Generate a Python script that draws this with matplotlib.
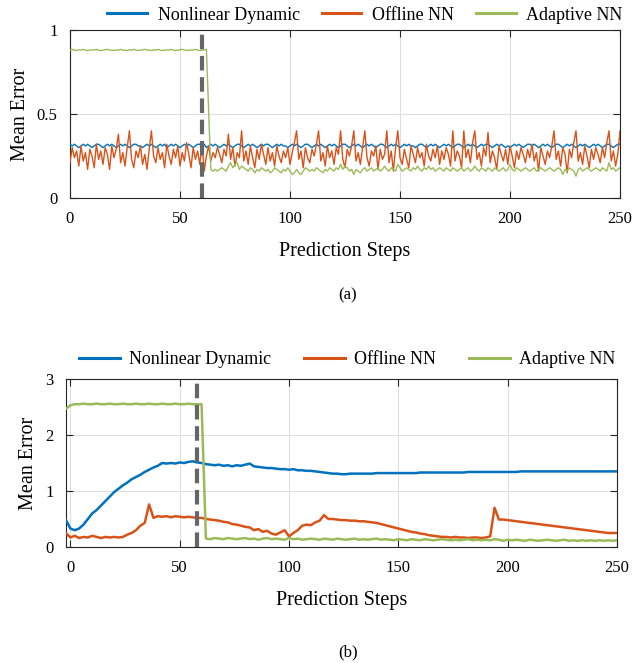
import matplotlib

matplotlib.use("Agg")
import matplotlib.pyplot as plt
import numpy as np


plt.rcParams["font.family"] = ["Liberation Serif", "DejaVu Serif"]

SERIES_NAMES = ["Nonlinear Dynamic", "Offline NN", "Adaptive NN"]
COLORS = ["#0072BD", "#D95319", "#9BBB59"]

# (a) one value per prediction step, steps 0..250
steps_a = list(range(0, 251))

nonlinear_a = [
    0.32, 0.31, 0.32, 0.31, 0.30, 0.31, 0.32, 0.31, 0.32, 0.31,
    0.30, 0.31, 0.32, 0.32, 0.31, 0.30, 0.31, 0.32, 0.31, 0.32,
    0.31, 0.30, 0.31, 0.32, 0.31, 0.32, 0.31, 0.30, 0.31, 0.32,
    0.32, 0.31, 0.31, 0.30, 0.31, 0.32, 0.31, 0.32, 0.31, 0.30,
    0.31, 0.32, 0.31, 0.32, 0.30, 0.31, 0.32, 0.31, 0.32, 0.31,
    0.30, 0.31, 0.32, 0.31, 0.32, 0.31, 0.30, 0.31, 0.32, 0.32,
    0.31, 0.32, 0.30, 0.31, 0.32, 0.31, 0.32, 0.31, 0.30, 0.31,
    0.32, 0.31, 0.32, 0.31, 0.30, 0.31, 0.32, 0.32, 0.31, 0.30,
    0.31, 0.32, 0.31, 0.32, 0.31, 0.30, 0.31, 0.32, 0.31, 0.32,
    0.32, 0.31, 0.30, 0.31, 0.32, 0.31, 0.32, 0.31, 0.31, 0.30,
    0.31, 0.32, 0.31, 0.32, 0.31, 0.30, 0.31, 0.32, 0.32, 0.31,
    0.30, 0.31, 0.32, 0.31, 0.32, 0.31, 0.30, 0.31, 0.32, 0.31,
    0.32, 0.31, 0.30, 0.31, 0.32, 0.32, 0.31, 0.30, 0.31, 0.32,
    0.31, 0.32, 0.31, 0.30, 0.31, 0.32, 0.31, 0.32, 0.31, 0.30,
    0.31, 0.32, 0.32, 0.31, 0.30, 0.31, 0.32, 0.31, 0.32, 0.31,
    0.30, 0.31, 0.32, 0.31, 0.32, 0.31, 0.31, 0.30, 0.31, 0.32,
    0.32, 0.31, 0.30, 0.31, 0.32, 0.31, 0.32, 0.31, 0.30, 0.31,
    0.32, 0.31, 0.32, 0.31, 0.30, 0.31, 0.32, 0.32, 0.31, 0.30,
    0.31, 0.32, 0.31, 0.32, 0.31, 0.30, 0.31, 0.32, 0.31, 0.32,
    0.32, 0.31, 0.30, 0.31, 0.32, 0.31, 0.32, 0.31, 0.30, 0.31,
    0.30, 0.31, 0.32, 0.31, 0.32, 0.31, 0.30, 0.31, 0.32, 0.32,
    0.31, 0.32, 0.31, 0.30, 0.31, 0.32, 0.31, 0.32, 0.31, 0.30,
    0.31, 0.32, 0.32, 0.31, 0.30, 0.31, 0.32, 0.31, 0.32, 0.31,
    0.30, 0.31, 0.32, 0.31, 0.32, 0.31, 0.30, 0.31, 0.32, 0.31,
    0.32, 0.31, 0.30, 0.31, 0.32, 0.32, 0.31, 0.30, 0.31, 0.32,
    0.32,
]

offline_a = [
    0.21, 0.30, 0.24, 0.28, 0.19, 0.31, 0.22, 0.27, 0.17, 0.29,
    0.25, 0.18, 0.32, 0.23, 0.28, 0.20, 0.30, 0.26, 0.17, 0.31,
    0.24, 0.29, 0.38, 0.21, 0.27, 0.19, 0.30, 0.40, 0.23, 0.18,
    0.28, 0.24, 0.31, 0.20, 0.26, 0.17, 0.29, 0.40, 0.25, 0.21,
    0.30, 0.23, 0.27, 0.18, 0.32, 0.25, 0.20, 0.29, 0.24, 0.31,
    0.19, 0.27, 0.22, 0.33, 0.26, 0.18, 0.30, 0.23, 0.28, 0.20,
    0.32, 0.16, 0.25, 0.31, 0.22, 0.27, 0.24, 0.30, 0.26, 0.21,
    0.29, 0.25, 0.38, 0.23, 0.30, 0.19, 0.27, 0.24, 0.40, 0.22,
    0.28, 0.20, 0.31, 0.24, 0.18, 0.29, 0.23, 0.32, 0.26, 0.20,
    0.30, 0.22, 0.27, 0.19, 0.31, 0.25, 0.21, 0.28, 0.24, 0.30,
    0.20, 0.27, 0.33, 0.40, 0.23, 0.28, 0.18, 0.30, 0.24, 0.21,
    0.29, 0.25, 0.32, 0.40, 0.22, 0.27, 0.19, 0.31, 0.24, 0.28,
    0.20, 0.30, 0.26, 0.40, 0.23, 0.18, 0.29, 0.25, 0.31, 0.40,
    0.22, 0.27, 0.20, 0.30, 0.40, 0.24, 0.19, 0.28, 0.25, 0.31,
    0.17, 0.29, 0.23, 0.26, 0.40, 0.21, 0.28, 0.16, 0.30, 0.40,
    0.24, 0.20, 0.29, 0.23, 0.18, 0.31, 0.26, 0.21, 0.30, 0.24,
    0.27, 0.19, 0.32, 0.25, 0.22, 0.29, 0.24, 0.31, 0.20, 0.28,
    0.23, 0.30, 0.26, 0.19, 0.40, 0.22, 0.28, 0.25, 0.18, 0.40,
    0.24, 0.29, 0.21, 0.33, 0.40, 0.23, 0.27, 0.19, 0.30, 0.25,
    0.39, 0.21, 0.28, 0.24, 0.17, 0.31, 0.26, 0.22, 0.29, 0.20,
    0.31, 0.25, 0.18, 0.28, 0.23, 0.30, 0.26, 0.21, 0.29, 0.24,
    0.32, 0.22, 0.27, 0.16, 0.30, 0.25, 0.20, 0.28, 0.24, 0.31,
    0.40, 0.23, 0.28, 0.19, 0.30, 0.26, 0.15, 0.29, 0.24, 0.33,
    0.40, 0.22, 0.27, 0.20, 0.31, 0.25, 0.18, 0.29, 0.23, 0.30,
    0.26, 0.21, 0.30, 0.24, 0.33, 0.40, 0.22, 0.28, 0.19, 0.26,
    0.40,
]

adaptive_a = [
    0.880, 0.885, 0.880, 0.878, 0.882, 0.880, 0.885, 0.880, 0.878, 0.880,
    0.882, 0.880, 0.885, 0.880, 0.878, 0.880, 0.882, 0.885, 0.880, 0.880,
    0.878, 0.882, 0.880, 0.885, 0.880, 0.880, 0.878, 0.882, 0.880, 0.885,
    0.880, 0.878, 0.880, 0.882, 0.885, 0.880, 0.880, 0.878, 0.882, 0.880,
    0.885, 0.880, 0.878, 0.880, 0.882, 0.880, 0.885, 0.880, 0.878, 0.880,
    0.882, 0.885, 0.880, 0.880, 0.878, 0.882, 0.880, 0.885, 0.880, 0.878,
    0.880, 0.882, 0.885, 0.530, 0.170, 0.160, 0.170, 0.160, 0.170, 0.180,
    0.17, 0.16, 0.19, 0.21, 0.18, 0.20, 0.21, 0.17, 0.19, 0.18,
    0.17, 0.16, 0.18, 0.17, 0.15, 0.17, 0.16, 0.18, 0.17, 0.16,
    0.17, 0.15, 0.16, 0.18, 0.17, 0.16, 0.15, 0.17, 0.16, 0.18,
    0.16, 0.14, 0.15, 0.17, 0.15, 0.14, 0.16, 0.18, 0.17, 0.16,
    0.17, 0.16, 0.18, 0.17, 0.16, 0.15, 0.17, 0.16, 0.18, 0.17,
    0.16, 0.18, 0.17, 0.20, 0.17, 0.19, 0.18, 0.16, 0.17, 0.14,
    0.17, 0.16, 0.15, 0.17, 0.18, 0.16, 0.17, 0.18, 0.16, 0.17,
    0.18, 0.16, 0.17, 0.19, 0.17, 0.16, 0.18, 0.17, 0.16, 0.20,
    0.18, 0.16, 0.17, 0.18, 0.17, 0.16, 0.18, 0.17, 0.19, 0.17,
    0.16, 0.18, 0.17, 0.19, 0.17, 0.18, 0.16, 0.17, 0.18, 0.17,
    0.16, 0.18, 0.17, 0.16, 0.18, 0.17, 0.16, 0.17, 0.18, 0.16,
    0.17, 0.18, 0.16, 0.17, 0.19, 0.17, 0.16, 0.18, 0.17, 0.16,
    0.18, 0.17, 0.16, 0.18, 0.17, 0.16, 0.17, 0.18, 0.16, 0.17,
    0.20, 0.17, 0.16, 0.18, 0.17, 0.16, 0.17, 0.18, 0.17, 0.16,
    0.17, 0.18, 0.16, 0.17, 0.18, 0.17, 0.16, 0.17, 0.18, 0.17,
    0.16, 0.17, 0.18, 0.17, 0.14, 0.17, 0.16, 0.18, 0.17, 0.16,
    0.13, 0.17, 0.18, 0.16, 0.17, 0.18, 0.17, 0.16, 0.17, 0.18,
    0.17, 0.16, 0.18, 0.17, 0.16, 0.21, 0.17, 0.18, 0.16, 0.17,
    0.18,
]

# (b) sampled every 2 steps, steps -2..250
steps_b = list(range(-2, 251, 2))

nonlinear_b = [
    0.48, 0.33, 0.30, 0.33, 0.40, 0.50, 0.60, 0.66, 0.74, 0.82,
    0.90, 0.98, 1.04, 1.10, 1.15, 1.21, 1.25, 1.29, 1.34, 1.38,
    1.42, 1.45, 1.50, 1.49, 1.50, 1.49, 1.51, 1.50, 1.52, 1.53,
    1.51, 1.50, 1.48, 1.47, 1.46, 1.47, 1.45, 1.46, 1.44, 1.46,
    1.45, 1.47, 1.49, 1.44, 1.43, 1.42, 1.41, 1.41, 1.40, 1.39,
    1.39, 1.38, 1.39, 1.37, 1.37, 1.36, 1.36, 1.35, 1.34, 1.33,
    1.32, 1.31, 1.31, 1.30, 1.30, 1.31, 1.31, 1.31, 1.31, 1.31,
    1.31, 1.32, 1.32, 1.32, 1.32, 1.32, 1.32, 1.32, 1.32, 1.32,
    1.32, 1.33, 1.33, 1.33, 1.33, 1.33, 1.33, 1.33, 1.33, 1.33,
    1.33, 1.33, 1.34, 1.34, 1.34, 1.34, 1.34, 1.34, 1.34, 1.34,
    1.34, 1.34, 1.34, 1.34, 1.35, 1.35, 1.35, 1.35, 1.35, 1.35,
    1.35, 1.35, 1.35, 1.35, 1.35, 1.35, 1.35, 1.35, 1.35, 1.35,
    1.35, 1.35, 1.35, 1.35, 1.35, 1.35, 1.35,
]

offline_b = [
    0.25, 0.17, 0.20, 0.16, 0.18, 0.17, 0.20, 0.18, 0.16, 0.18,
    0.17, 0.18, 0.17, 0.18, 0.22, 0.25, 0.30, 0.38, 0.43, 0.76,
    0.52, 0.55, 0.54, 0.55, 0.53, 0.55, 0.54, 0.53, 0.54, 0.53,
    0.52, 0.52, 0.50, 0.49, 0.48, 0.47, 0.45, 0.44, 0.41, 0.40,
    0.38, 0.36, 0.35, 0.30, 0.32, 0.27, 0.29, 0.24, 0.22, 0.26,
    0.30, 0.19, 0.25, 0.30, 0.38, 0.40, 0.39, 0.44, 0.47, 0.57,
    0.50, 0.50, 0.49, 0.48, 0.48, 0.47, 0.47, 0.46, 0.46, 0.45,
    0.44, 0.43, 0.41, 0.39, 0.37, 0.35, 0.33, 0.31, 0.29, 0.27,
    0.26, 0.24, 0.23, 0.21, 0.20, 0.19, 0.18, 0.18, 0.17, 0.18,
    0.17, 0.17, 0.16, 0.17, 0.17, 0.16, 0.17, 0.19, 0.70, 0.49,
    0.49, 0.48, 0.47, 0.46, 0.45, 0.44, 0.43, 0.42, 0.41, 0.40,
    0.39, 0.38, 0.37, 0.36, 0.35, 0.34, 0.33, 0.32, 0.31, 0.30,
    0.29, 0.28, 0.27, 0.26, 0.25, 0.25, 0.25,
]

adaptive_b = [
    2.47, 2.53, 2.55, 2.55, 2.56, 2.55, 2.55, 2.56, 2.55, 2.55,
    2.56, 2.55, 2.55, 2.56, 2.55, 2.55, 2.56, 2.55, 2.55, 2.56,
    2.55, 2.55, 2.56, 2.55, 2.55, 2.56, 2.55, 2.55, 2.56, 2.55,
    2.55, 2.55, 0.15, 0.14, 0.16, 0.15, 0.14, 0.16, 0.15, 0.14,
    0.15, 0.16, 0.14, 0.15, 0.13, 0.15, 0.16, 0.14, 0.15, 0.14,
    0.13, 0.16, 0.14, 0.15, 0.13, 0.14, 0.15, 0.14, 0.13, 0.15,
    0.14, 0.13, 0.15, 0.14, 0.13, 0.14, 0.15, 0.13, 0.14, 0.13,
    0.14, 0.15, 0.13, 0.14, 0.13, 0.12, 0.14, 0.13, 0.12, 0.14,
    0.13, 0.12, 0.14, 0.13, 0.12, 0.13, 0.14, 0.13, 0.12, 0.13,
    0.12, 0.13, 0.14, 0.12, 0.13, 0.12, 0.13, 0.12, 0.14, 0.13,
    0.11, 0.13, 0.12, 0.13, 0.12, 0.11, 0.13, 0.12, 0.11, 0.12,
    0.13, 0.12, 0.11, 0.12, 0.13, 0.11, 0.12, 0.11, 0.12, 0.11,
    0.12, 0.11, 0.12, 0.11, 0.12, 0.11, 0.12,
]

# step where the adaptive model switches in
switch_a = 60
switch_b = 58

xticks = [0, 50, 100, 150, 200, 250]
yticks_a = [0, 0.5, 1]
ytick_labels_a = ["0", "0.5", "1"]
yticks_b = [0, 1, 2, 3]
ytick_labels_b = ["0", "1", "2", "3"]

W, H = 634, 663


def style_axes(ax):
    ax.grid(True, color="#dedede", linewidth=0.8)
    ax.set_axisbelow(True)
    for sp in ax.spines.values():
        sp.set_color("#262626")
        sp.set_linewidth(0.8)
    ax.tick_params(direction="in", top=True, right=True, length=5,
                   width=0.8, color="#262626", labelsize=12, pad=9)


def draw_panel(ax, x, series, lw, switch, xlim, ylim, yticks, ylabels):
    for vals, name, col in zip(series, SERIES_NAMES, COLORS):
        ax.plot(x, vals, color=col, linewidth=lw, label=name, zorder=3)
    ax.axvline(switch, color="#666666", linewidth=3, dashes=(3.5, 1.6), zorder=4)
    ax.set_xlim(*xlim)
    ax.set_ylim(*ylim)
    ax.set_xticks(xticks)
    ax.set_yticks(yticks, ylabels)
    style_axes(ax)
    ax.set_xlabel("Prediction Steps", fontsize=14.5, labelpad=11)
    ax.set_ylabel("Mean Error", fontsize=14.5, labelpad=5)


def main():
    fig = plt.figure(figsize=(W / 100, H / 100), dpi=100)
    ax1 = fig.add_axes([70 / W, 1 - 198 / H, 550 / W, 168 / H])
    ax2 = fig.add_axes([66 / W, 1 - 547 / H, 551 / W, 168 / H])

    draw_panel(ax1, steps_a, [nonlinear_a, offline_a, adaptive_a], 1.0,
               switch_a, (0, 250), (0, 1), yticks_a, ytick_labels_a)
    draw_panel(ax2, steps_b, [nonlinear_b, offline_b, adaptive_b], 1.8,
               switch_b, (-2, 250), (0, 3), yticks_b, ytick_labels_b)

    leg1 = ax1.legend(loc="center", bbox_to_anchor=(365 / W, 1 - 15 / H),
                      bbox_transform=fig.transFigure, ncol=3, frameon=False,
                      fontsize=13, handlelength=2.2, handletextpad=0.6,
                      columnspacing=1.2)
    leg2 = ax2.legend(loc="center", bbox_to_anchor=(347 / W, 1 - 360 / H),
                      bbox_transform=fig.transFigure, ncol=3, frameon=False,
                      fontsize=13, handlelength=2.3, handletextpad=0.5,
                      columnspacing=1.8)
    for leg in (leg1, leg2):
        for line in leg.get_lines():
            line.set_linewidth(2.2)

    fig.text(348 / W, 1 - 295 / H, "(a)", ha="center", va="center", fontsize=12)
    fig.text(348 / W, 1 - 652 / H, "(b)", ha="center", va="center", fontsize=12)

    fig.savefig("out.png", dpi=100)
    plt.close(fig)


if __name__ == "__main__":
    main()
